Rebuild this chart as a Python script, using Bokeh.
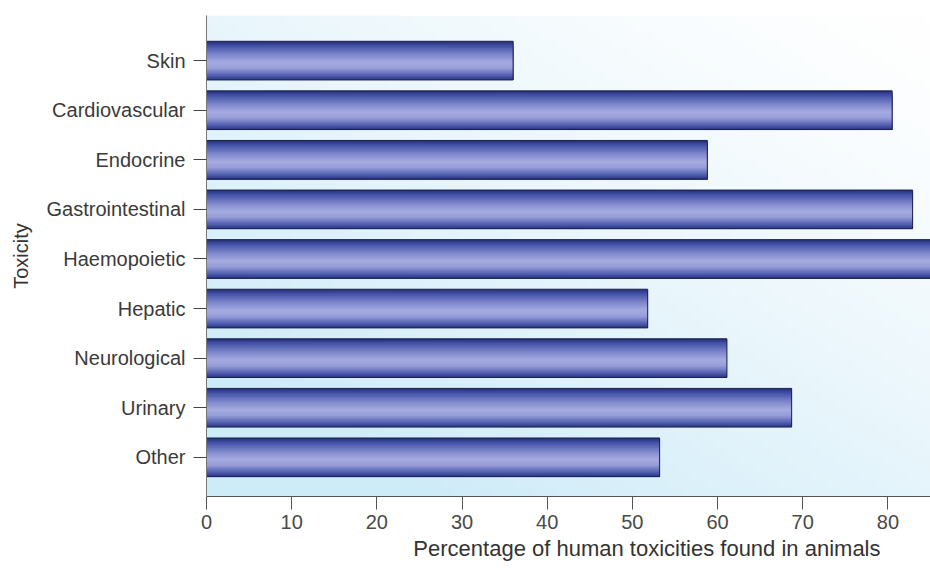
import numpy as np
from bokeh.plotting import figure
from bokeh.models import Range1d, FixedTicker, Title, ColumnDataSource
from bokeh.embed import file_html
from bokeh.resources import INLINE

# ---- data ----
categories = ["Skin", "Cardiovascular", "Endocrine", "Gastrointestinal", "Haemopoietic",
              "Hepatic", "Neurological", "Urinary", "Other"]
values = [36.0, 80.5, 58.8, 82.9, 88.0, 51.8, 61.1, 68.7, 53.2]
x_ticks = [0, 10, 20, 30, 40, 50, 60, 70, 80]
x_label = "Percentage of human toxicities found in animals"
y_label = "Toxicity"

FONT = "Liberation Sans"
n = len(categories)
ypos = [n - 1 - i for i in range(n)]  # Skin on top
BAR_H = 0.78

p = figure(width=930, height=569, output_backend="svg", toolbar_location=None,
           x_range=Range1d(0, 85), y_range=Range1d(-0.79, n - 1 + 0.91),
           min_border_left=206, min_border_right=0, min_border_top=15, min_border_bottom=73)
p.outline_line_color = None
p.xgrid.visible = False
p.ygrid.visible = False
p.background_fill_color = "white"
p.border_fill_color = "white"

# ---- background gradient (white top-right -> light blue bottom-left) ----
H, W = 60, 120
yy, xx = np.mgrid[0:H, 0:W]
xn = xx / (W - 1)
yn = yy / (H - 1)  # 0 bottom, 1 top
s = np.clip(0.55 * (1 - xn) + 0.6 * (1 - yn), 0, 1) ** 1.3
c0 = np.array([255, 255, 255])
c1 = np.array([206, 235, 248])
img = np.empty((H, W), dtype=np.uint32)
view = img.view(dtype=np.uint8).reshape((H, W, 4))
for ch in range(3):
    view[:, :, ch] = (c0[ch] * (1 - s) + c1[ch] * s).astype(np.uint8)
view[:, :, 3] = 255
p.image_rgba(image=[img], x=0, y=-0.79, dw=85, dh=n - 1 + 0.91 + 0.79)

# ---- bars with cylindrical shading (overlapping strips, top to bottom) ----
stops = [(0.0, (34, 46, 115)), (0.12, (68, 82, 168)), (0.35, (128, 136, 204)),
         (0.55, (166, 171, 224)), (0.70, (150, 157, 215)), (0.88, (84, 97, 178)),
         (1.0, (40, 52, 128))]

def grad(t):
    for (t0, a), (t1, b) in zip(stops[:-1], stops[1:]):
        if t0 <= t <= t1:
            f = (t - t0) / (t1 - t0)
            return "#%02x%02x%02x" % tuple(int(round(a[k] + (b[k] - a[k]) * f)) for k in range(3))
    return "#%02x%02x%02x" % stops[-1][1]

N = 36
for k in range(N):
    t = (k + 0.5) / N
    top_off = BAR_H / 2 - k * BAR_H / N          # offset of strip top from bar centre
    h = top_off + BAR_H / 2                        # strip runs down to bar bottom
    ys = [y + top_off - h / 2 for y in ypos]
    src = ColumnDataSource(dict(y=ys, right=values))
    p.hbar(y="y", right="right", left=0, height=h, source=src,
           fill_color=grad(t), line_color=None)

p.hbar(y=ypos, right=values, left=0, height=BAR_H, fill_color=None,
       line_color="#1a2050", line_width=1)

# ---- axes ----
xa = p.xaxis[0]
xa.ticker = FixedTicker(ticks=x_ticks)
xa.axis_line_color = "#555555"
xa.major_tick_line_color = "#555555"
xa.major_tick_out = 13
xa.major_tick_in = 0
xa.minor_tick_line_color = None
xa.major_label_text_font = FONT
xa.major_label_text_font_size = "20px"
xa.major_label_text_color = "#4a4a4a"
xa.major_label_standoff = 5

ya = p.yaxis[0]
ya.ticker = FixedTicker(ticks=ypos)
ya.major_label_overrides = {y: c for y, c in zip(ypos, categories)}
ya.axis_line_color = "#777777"
ya.major_tick_line_color = "#444444"
ya.major_tick_out = 13
ya.major_tick_in = 0
ya.minor_tick_line_color = None
ya.major_label_text_font = FONT
ya.major_label_text_font_size = "20px"
ya.major_label_text_color = "#3a3a3a"
ya.major_label_standoff = 8
ya.axis_label = y_label
ya.axis_label_text_font = FONT
ya.axis_label_text_font_size = "20px"
ya.axis_label_text_font_style = "normal"
ya.axis_label_text_color = "#333333"
ya.axis_label_standoff = 12

# x axis title, placed off-centre to the right as in the reference
p.add_layout(Title(text=x_label, align="right", offset=50, standoff=5,
                   text_font=FONT, text_font_size="22px", text_font_style="normal",
                   text_color="#333333"), "below")

open("out.html", "w").write(file_html(p, INLINE))
